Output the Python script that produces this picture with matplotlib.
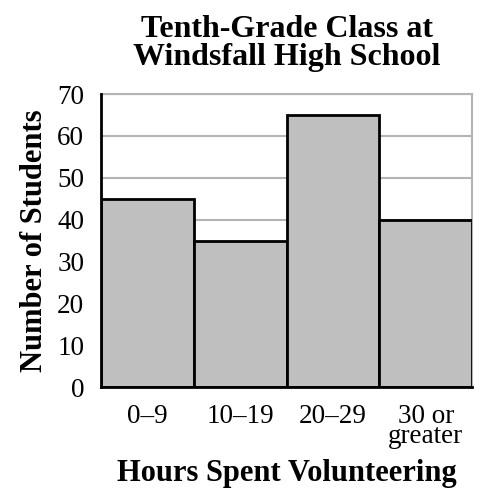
import numpy as np
from matplotlib import pyplot as plt

plt.rcParams['font.family'] = 'Liberation Serif'

hours = ['0\u20139', '10\u201319', '20\u201329', '30 or\ngreater']
students = [45, 35, 65, 40]
yticks = [0, 10, 20, 30, 40, 50, 60, 70]

fig = plt.figure(figsize=(4.78, 4.90), dpi=100)
ax = fig.add_axes([0.211, 0.210, 0.777, 0.598])

x = np.arange(len(hours))
ax.bar(x, students, width=1.0, color='#bfbfbf', edgecolor='black', linewidth=2, zorder=3)

ax.set_xlim(-0.5, len(hours) - 0.5)
ax.set_ylim(0, 70)
ax.set_yticks(yticks)
ax.set_xticks(x)
ax.set_xticklabels(hours, linespacing=0.75)
ax.tick_params(length=0, labelsize=19.5, pad=12)
ax.tick_params(axis='x', pad=12)

ax.yaxis.grid(True, color='#b4b4b4', linewidth=1.5, zorder=0)
for side in ['top', 'right']:
    ax.spines[side].set_color('#b4b4b4')
    ax.spines[side].set_linewidth(1.5)
for side in ['left', 'bottom']:
    ax.spines[side].set_linewidth(2)
    ax.spines[side].set_zorder(4)

ax.set_ylabel('Number of Students', fontsize=22, fontweight='bold', labelpad=6)
ax.set_xlabel('Hours Spent Volunteering', fontsize=22, fontweight='bold', labelpad=7)
ax.set_title('Tenth-Grade Class at\nWindsfall High School', fontsize=23,
             fontweight='bold', linespacing=0.95, pad=21)

fig.savefig('out.png', dpi=100)
